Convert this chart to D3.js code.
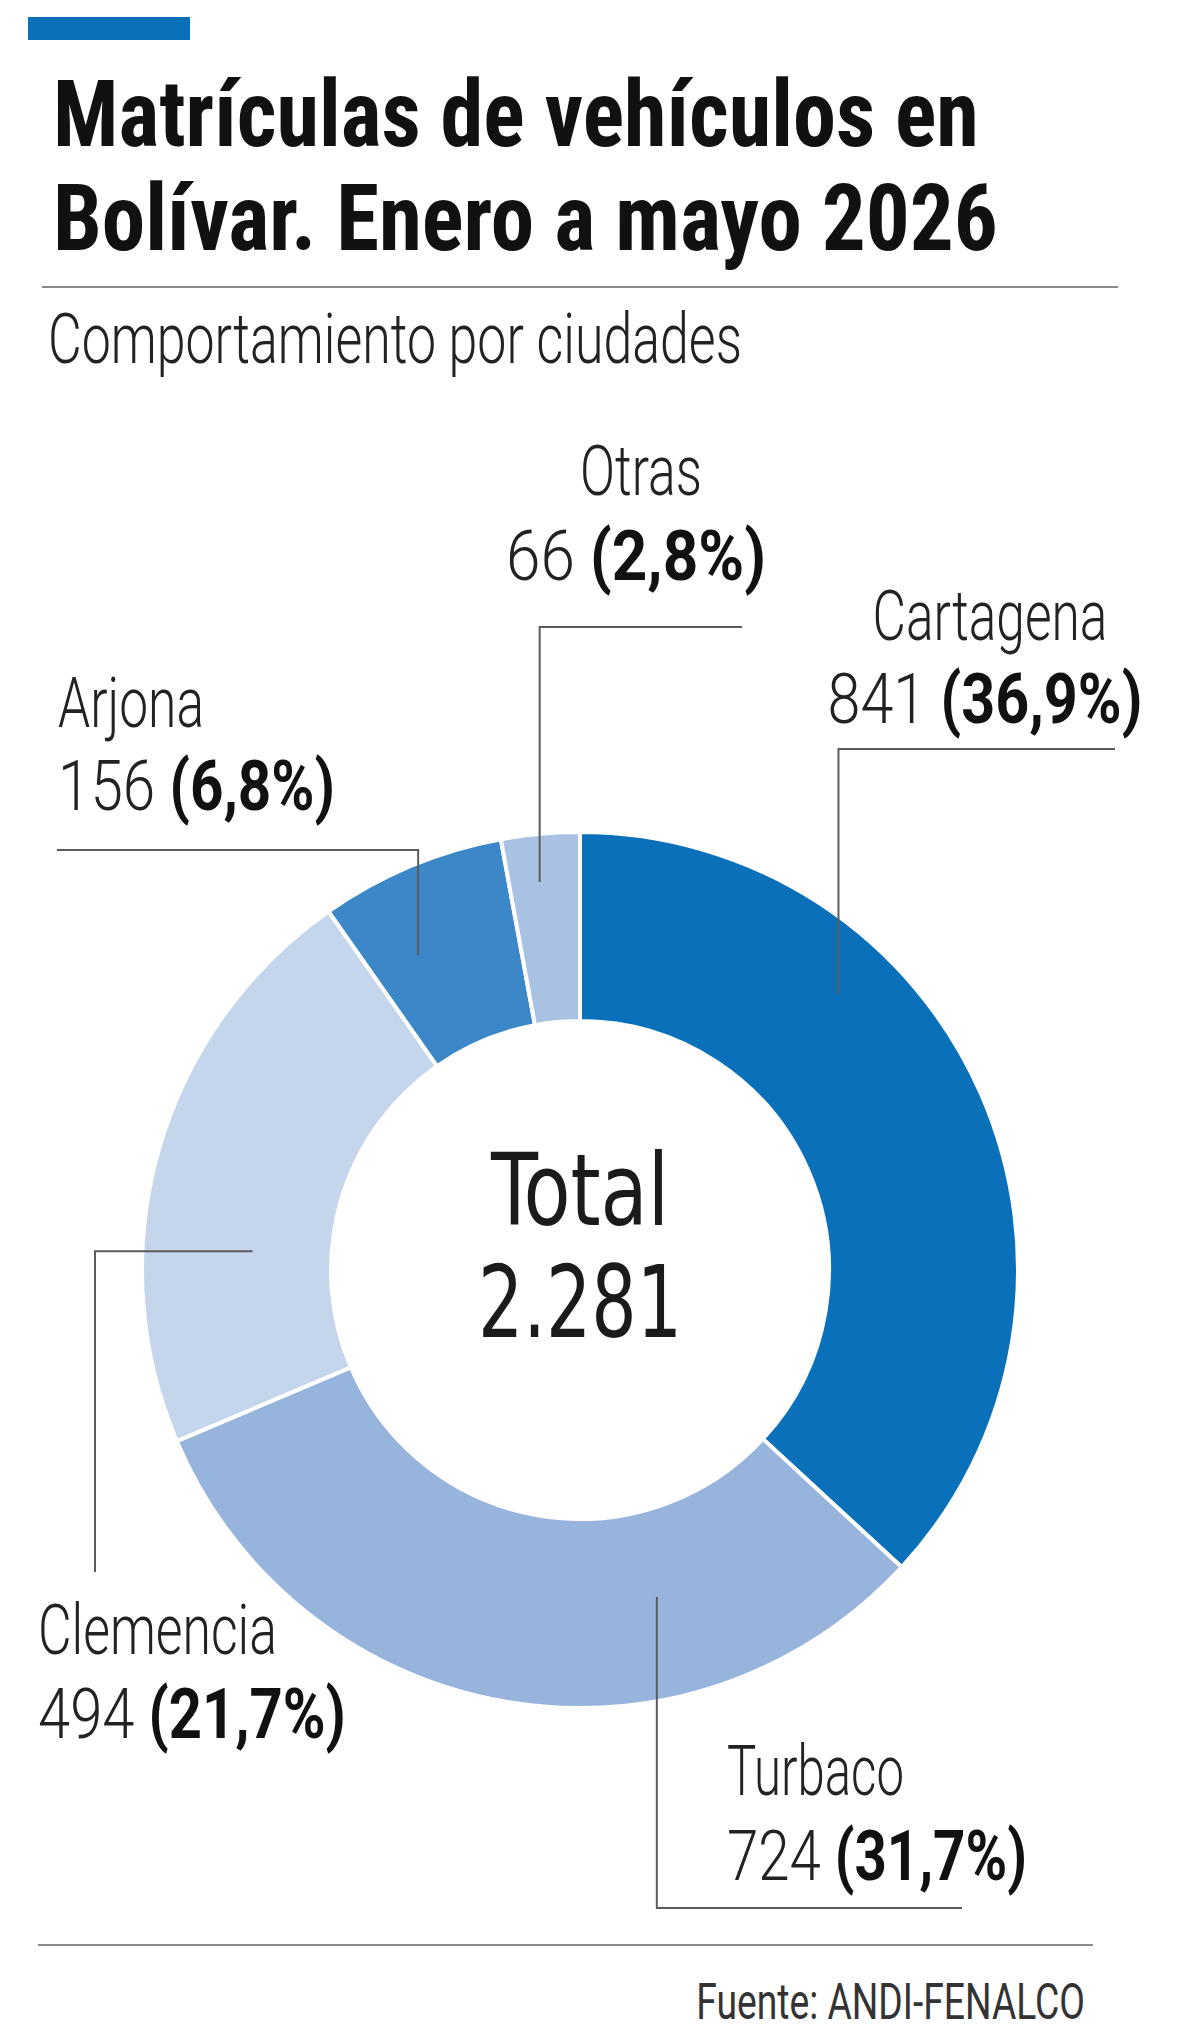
<!DOCTYPE html>
<html>
<head>
<meta charset="utf-8">
<script src="https://cdn.jsdelivr.net/npm/d3@7"></script>
<style>
  html, body { margin: 0; padding: 0; background: #fff; }
  svg { display: block; }
</style>
</head>
<body>
<div id="chart"></div>
<script>
// data
const cities = ["Cartagena", "Turbaco", "Clemencia", "Arjona", "Otras"];
const values = [841, 724, 494, 156, 66];
const pctLabels = ["36,9%", "31,7%", "21,7%", "6,8%", "2,8%"];
const colors = ["#0a70ba", "#97b4dc", "#c5d5ec", "#3b87c7", "#a9c2e4"];

const W = 1200, H = 2037;
const cx = 580, cy = 1270, rOuter = 438, rInner = 249;

const condBold = "'Liberation Sans Narrow', 'Roboto Condensed', 'DejaVu Sans Condensed', Roboto, sans-serif";
const condReg = "'Liberation Sans Narrow', 'DejaVu Sans Condensed', Roboto, sans-serif";
const light = "'Roboto', 'Liberation Sans Narrow', 'Noto Sans', sans-serif";

const svg = d3.select("#chart").append("svg")
    .attr("width", W)
    .attr("height", H);

// blue tab at the top
svg.append("rect")
    .attr("x", 28).attr("y", 17)
    .attr("width", 162).attr("height", 23)
    .attr("fill", "#0a70ba");

// squeeze a text to a given width (fonts here are wider than the original)
function fitText(g, width) {
    const w = g.select("text").node().getComputedTextLength();
    const s = width / w;
    g.attr("transform", "translate(" + g.attr("data-x") + "," + g.attr("data-y") + ") scale(" + s + ",1)");
}

function addText(parts, x, y, width, size, anchor, family, weight, color) {
    const g = svg.append("g").attr("data-x", x).attr("data-y", y);
    const t = g.append("text")
        .attr("x", 0).attr("y", 0)
        .attr("text-anchor", anchor)
        .attr("font-family", family)
        .attr("font-size", size)
        .attr("font-weight", weight)
        .attr("fill", color || "#1b1b1b");
    parts.forEach(p => {
        t.append("tspan")
            .attr("font-weight", p.bold ? 700 : weight)
            .attr("fill", p.bold ? "#111" : null)
            .text(p.text);
    });
    fitText(g, width);
    return g;
}

// title
addText([{text: "Matrículas de vehículos en"}], 53, 146, 926, 92, "start", condBold, 700, "#111");
addText([{text: "Bolívar. Enero a mayo 2026"}], 53, 250, 945, 92, "start", condBold, 700, "#111");

svg.append("line")
    .attr("x1", 42).attr("x2", 1118)
    .attr("y1", 287).attr("y2", 287)
    .attr("stroke", "#8a8a8a").attr("stroke-width", 2);

addText([{text: "Comportamiento por ciudades"}], 48, 363, 694, 70, "start", light, 300, "#222");

// donut
const pie = d3.pie().sort(null).value(d => d.value)
    .startAngle(0).endAngle(2 * Math.PI);
const arc = d3.arc().innerRadius(rInner).outerRadius(rOuter);

const slices = pie(cities.map((c, i) => ({city: c, value: values[i], pct: pctLabels[i], color: colors[i]})));

const donut = svg.append("g").attr("transform", "translate(" + cx + "," + cy + ")");
donut.selectAll("path")
    .data(slices)
  .enter().append("path")
    .attr("d", arc)
    .attr("fill", d => d.data.color)
    .attr("stroke", "#fff")
    .attr("stroke-width", 4);

// centre text
const total = d3.sum(values);
const fmtTotal = d3.formatLocale({decimal: ",", thousands: ".", grouping: [3], currency: ["", ""]}).format(",d");
addText([{text: "Total"}], cx, 1225, 178, 100, "middle", condReg, 400, "#1b1b1b");
addText([{text: fmtTotal(total)}], cx, 1337, 204, 100, "middle", condReg, 400, "#1b1b1b");

// label layout: where the leader leaves the slice and how it bends to the text
const layout = {
    "Cartagena": {t: 0.325, r: 378, path: [["v", 749], ["h", 1115]],
        name: [990, 640, 235], num: [985, 723, 315], anchor: "middle"},
    "Turbaco": {t: 0.298, r: 336, path: [["v", 1908], ["h", 962]],
        name: [727, 1795, 177], num: [727, 1880, 300], anchor: "start"},
    "Clemencia": {t: 0.337, r: 328, path: [["h", 95], ["v", 1572]],
        name: [38, 1654, 239], num: [38, 1738, 308], anchor: "start"},
    "Arjona": {t: 0.318, r: 354, path: [["v", 850], ["h", 57]],
        name: [58, 727, 146], num: [58, 810, 277], anchor: "start"},
    "Otras": {t: 0.43, r: 390, path: [["v", 627], ["h", 742]],
        name: [641, 495, 122], num: [636, 580, 260], anchor: "middle"}
};

slices.forEach(s => {
    const L = layout[s.data.city];
    const a = s.startAngle + L.t * (s.endAngle - s.startAngle);
    let x = cx + L.r * Math.sin(a);
    let y = cy - L.r * Math.cos(a);
    const pts = [[x, y]];
    L.path.forEach(step => {
        if (step[0] === "v") y = step[1]; else x = step[1];
        pts.push([x, y]);
    });
    svg.append("path")
        .attr("d", d3.line()(pts))
        .attr("fill", "none")
        .attr("stroke", "#5c5c5c")
        .attr("stroke-width", 2);

    addText([{text: s.data.city}], L.name[0], L.name[1], L.name[2], 70, L.anchor, light, 300, "#222");
    addText([{text: s.data.value + " "}, {text: "(" + s.data.pct + ")", bold: true}],
        L.num[0], L.num[1], L.num[2], 70, L.anchor, light, 300, "#222");
});

// footer
svg.append("line")
    .attr("x1", 38).attr("x2", 1093)
    .attr("y1", 1945).attr("y2", 1945)
    .attr("stroke", "#8a8a8a").attr("stroke-width", 2);

addText([{text: "Fuente: ANDI-FENALCO"}], 1085, 2019, 389, 50, "end", light, 400, "#333");
</script>
</body>
</html>
